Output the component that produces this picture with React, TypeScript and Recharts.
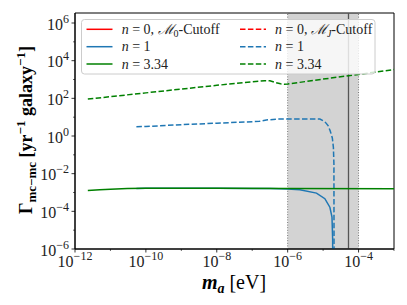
import React from 'react';
import { ComposedChart, Line, XAxis, YAxis, ReferenceArea, ReferenceLine } from 'recharts';

// ---------- data ----------
const greenSolidX = [2.3e-12, 5e-12, 1e-11, 3e-11, 1e-10, 1e-8, 1e-6, 1e-3];
const greenSolidY = [1.29e-3, 1.41e-3, 1.51e-3, 1.62e-3, 1.66e-3, 1.66e-3, 1.62e-3, 1.58e-3];

const greenDashedX = [2.3e-12, 1e-11, 1e-10, 1e-9, 1e-8, 1e-7, 2.24e-7, 3.16e-7, 4.47e-7, 6.3e-7, 7.9e-7, 1e-6, 1e-5, 1e-4, 1e-3];
const greenDashedY = [91, 123, 195, 309, 490, 759, 871, 851, 692, 589, 562, 575, 1050, 1860, 3390];

const blueSolidX = [5.4e-11, 1e-10, 1e-9, 1e-8, 1e-7, 3.2e-7, 1e-6, 2.2e-6, 6.5e-6, 1.12e-5, 1.55e-5, 1.78e-5, 1.86e-5, 1.88e-5];
const blueSolidY = [1.64e-3, 1.66e-3, 1.66e-3, 1.66e-3, 1.65e-3, 1.62e-3, 1.55e-3, 1.41e-3, 9.3e-4, 4.7e-4, 1.66e-4, 4.9e-5, 3.2e-6, 1e-9];

const blueDashedX = [5.4e-11, 1e-10, 1e-9, 1e-8, 1.6e-7, 2.5e-7, 5e-7, 1e-6, 5e-6, 8.1e-6, 1.12e-5, 1.38e-5, 1.58e-5, 1.82e-5, 1.95e-5, 2.02e-5, 2.04e-5];
const blueDashedY = [3.1, 3.2, 4.0, 4.8, 6.0, 7.1, 7.9, 7.9, 7.9, 7.9, 5.75, 3.55, 1.9, 0.79, 0.25, 0.032, 1e-9];

const shadeLow = 1e-6;
const shadeHigh = 1e-4;
const markerX = 5.2e-5;

const xDomain = [1e-12, 1e-3];
const yDomain = [1e-6, 3.4e6];

const xMajorExp = [-12, -10, -8, -6, -4];
const xMinorExp = [-11, -9, -7, -5, -3];
const yMajorExp = [-6, -4, -2, 0, 2, 4, 6];
const yMinorExp = [-5, -3, -1, 1, 3, 5];

const legendLabels = [
  { n: '0', sub: '0', dashed: false, color: '#ff0000' },
  { n: '1', dashed: false, color: '#1f77b4' },
  { n: '3.34', dashed: false, color: '#008000' },
  { n: '0', sub: 'J', dashed: true, color: '#ff0000' },
  { n: '1', dashed: true, color: '#1f77b4' },
  { n: '3.34', dashed: true, color: '#008000' },
];

const toPoints = (xs: number[], ys: number[]) => xs.map((x, i) => ({ x, y: ys[i] }));

const greenSolid = toPoints(greenSolidX, greenSolidY);
const greenDashed = toPoints(greenDashedX, greenDashedY);
const blueSolid = toPoints(blueSolidX, blueSolidY);
const blueDashed = toPoints(blueDashedX, blueDashedY);

const xTicks = [...xMajorExp, ...xMinorExp].sort((a, b) => a - b).map((e) => Math.pow(10, e));
const yTicks = [...yMajorExp, ...yMinorExp].sort((a, b) => a - b).map((e) => Math.pow(10, e));

const FONT = '"Liberation Serif", "DejaVu Serif", serif';
const expStr = (e: number) => (e < 0 ? '\u2212' + Math.abs(e) : String(e));

const XTick = (props: any) => {
  const { x, y, payload } = props;
  const e = Math.round(Math.log10(payload.value));
  const major = xMajorExp.includes(e);
  return (
    <g>
      <line x1={x} x2={x} y1={y} y2={y + (major ? 3.5 : 2)} stroke="#000" strokeWidth={major ? 0.8 : 0.6} />
      {major && (
        <text x={x} y={y + 17.7} textAnchor="middle" fontFamily={FONT} fontSize={16} fill="#222">
          <tspan>10</tspan>
          <tspan dy={-6.7} fontSize={12}>{expStr(e)}</tspan>
        </text>
      )}
    </g>
  );
};

const YTick = (props: any) => {
  const { x, y, payload } = props;
  const e = Math.round(Math.log10(payload.value));
  const major = yMajorExp.includes(e);
  return (
    <g>
      <line x1={x - (major ? 3.5 : 2)} x2={x} y1={y} y2={y} stroke="#000" strokeWidth={major ? 0.8 : 0.6} />
      {major && (
        <text x={x - 6} y={y + 6.5} textAnchor="end" fontFamily={FONT} fontSize={16} fill="#222">
          <tspan>10</tspan>
          <tspan dy={-6.7} fontSize={12}>{expStr(e)}</tspan>
        </text>
      )}
    </g>
  );
};

const DASH = '5.5 2.4';

export default function App() {
  const rowY = [29.3, 46.7, 64];
  return (
    <div style={{ position: 'absolute', left: 0, top: 0, width: 407, height: 305, background: '#fff' }}>
      <ComposedChart width={407} height={305} margin={{ top: 13, right: 13, bottom: 0, left: 0 }}>
        <XAxis
          dataKey="x"
          type="number"
          scale="log"
          domain={xDomain}
          allowDataOverflow
          ticks={xTicks}
          interval={0}
          height={56}
          tickSize={0}
          tickMargin={0}
          tickLine={false}
          tick={<XTick />}
          axisLine={{ stroke: '#000', strokeWidth: 1 }}
        />
        <YAxis
          dataKey="y"
          type="number"
          scale="log"
          domain={yDomain}
          allowDataOverflow
          ticks={yTicks}
          interval={0}
          width={75}
          tickSize={0}
          tickMargin={0}
          tickLine={false}
          tick={<YTick />}
          axisLine={{ stroke: '#000', strokeWidth: 1 }}
        />
        <ReferenceArea x1={shadeLow} x2={shadeHigh} y1={yDomain[0]} y2={yDomain[1]} fill="#d3d3d3" fillOpacity={1} stroke="none" />
        <ReferenceLine x={shadeLow} stroke="#777" strokeDasharray="1 1.6" strokeWidth={1} />
        <ReferenceLine x={shadeHigh} stroke="#777" strokeDasharray="1 1.6" strokeWidth={1} />
        <ReferenceLine x={markerX} stroke="#555" strokeWidth={1.3} />
        <Line data={blueSolid} dataKey="y" stroke="#1f77b4" strokeWidth={1.5} dot={false} isAnimationActive={false} />
        <Line data={blueDashed} dataKey="y" stroke="#1f77b4" strokeWidth={1.5} strokeDasharray={DASH} dot={false} isAnimationActive={false} />
        <Line data={greenSolid} dataKey="y" stroke="#008000" strokeWidth={1.5} dot={false} isAnimationActive={false} />
        <Line data={greenDashed} dataKey="y" stroke="#008000" strokeWidth={1.5} strokeDasharray={DASH} dot={false} isAnimationActive={false} />
        <ReferenceArea x1={xDomain[0]} x2={xDomain[1]} y1={yDomain[0]} y2={yDomain[1]} fill="none" stroke="#000" strokeWidth={1} />
      </ComposedChart>
      <svg width={407} height={305} style={{ position: 'absolute', left: 0, top: 0, pointerEvents: 'none' }}>
        {/* axis labels */}
        <text transform="translate(32,130) rotate(-90)" textAnchor="middle" fontFamily={FONT} fontSize={18} fontWeight="bold" fill="#000">
          <tspan>Γ</tspan>
          <tspan fontSize={13} dy={4}>mc{'\u2212'}mc</tspan>
          <tspan dy={-4}> [yr</tspan>
          <tspan fontSize={13} dy={-7}>{'\u2212'}1</tspan>
          <tspan dy={7}> galaxy</tspan>
          <tspan fontSize={13} dy={-7}>{'\u2212'}1</tspan>
          <tspan dy={7}>]</tspan>
        </text>
        <text x={234} y={289} textAnchor="middle" fontFamily={FONT} fontSize={20} fill="#000">
          <tspan fontWeight="bold" fontStyle="italic">m</tspan>
          <tspan fontWeight="bold" fontStyle="italic" fontSize={14} dy={4}>a</tspan>
          <tspan dy={-4}> [eV]</tspan>
        </text>
        {/* legend */}
        <rect x={81.5} y={19.5} width={293.5} height={54.5} rx={3} fill="#fff" fillOpacity={0.8} stroke="#ccc" strokeWidth={1} />
        {legendLabels.map((l, i) => {
          const col = i < 3 ? 0 : 1;
          const row = i % 3;
          const hx = col === 0 ? 86.5 : 240;
          const tx = col === 0 ? 121.7 : 275;
          const y = rowY[row];
          return (
            <g key={i}>
              <line x1={hx} x2={hx + 26} y1={y} y2={y} stroke={l.color} strokeWidth={1.5} strokeDasharray={l.dashed ? DASH : undefined} />
              <text x={tx} y={y + 4.7} fontFamily={FONT} fontSize={14} fill="#222">
                <tspan fontStyle="italic">n</tspan>
                <tspan> = {l.n}</tspan>
                {l.sub !== undefined && <tspan>, </tspan>}
                {l.sub !== undefined && <tspan fontStyle="italic">ℳ</tspan>}
                {l.sub !== undefined && <tspan fontSize={10} dy={3} fontStyle={l.sub === 'J' ? 'italic' : 'normal'}>{l.sub}</tspan>}
                {l.sub !== undefined && <tspan dy={-3}>-Cutoff</tspan>}
              </text>
            </g>
          );
        })}
      </svg>
    </div>
  );
}
